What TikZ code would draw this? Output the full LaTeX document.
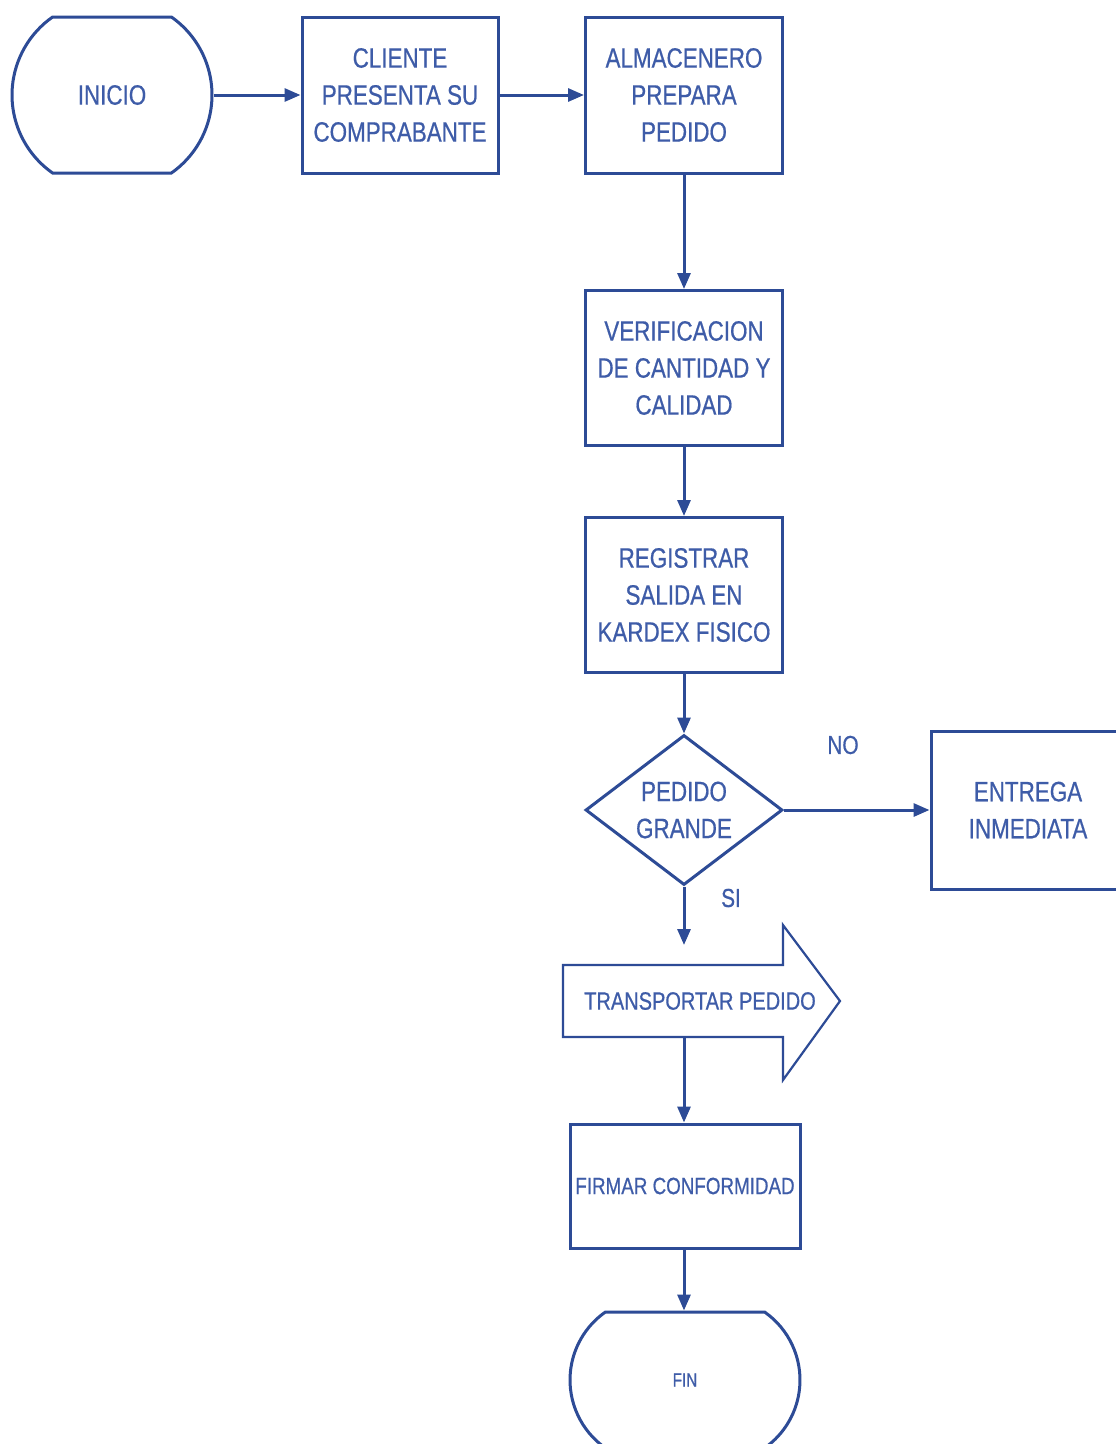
\documentclass[tikz,border=0pt]{standalone}
\usepackage{fontspec}
\setmainfont[FakeStretch=0.8,FakeBold=0.6]{Liberation Sans}
\usetikzlibrary{arrows.meta,shapes.misc,shapes.geometric}
\definecolor{lc}{RGB}{45,75,150}
\definecolor{tc}{RGB}{62,92,168}
\begin{document}
\begin{tikzpicture}[x=1pt,y=-1pt,
  every node/.style={text=tc},
  base/.style={draw=lc, line width=3pt, align=center, inner sep=0pt,
    font=\fontsize{28}{37}\selectfont},
  box/.style={base, rectangle, minimum width=197pt, minimum height=156pt},
  term/.style={base, rounded rectangle, rounded rectangle arc length=110,
    minimum width=200pt, minimum height=156pt},
  dec/.style={base, diamond, aspect=1.3, minimum width=197pt, minimum height=150pt},
  lbl/.style={font=\fontsize{26}{30}\selectfont},
  conn/.style={draw=lc, line width=3pt, -{Triangle[length=16pt,width=13pt]}}
]
\useasboundingbox (0,0) rectangle (1116,1444);
\fill[white] (0,0) rectangle (1116,1444);

\node[term] (ini) at (112,95) {INICIO};
\node[box, minimum width=196pt] (cli) at (400,95) {CLIENTE\\PRESENTA SU\\COMPRABANTE};
\node[box] (alm) at (684,95) {ALMACENERO\\PREPARA\\PEDIDO};
\node[box, minimum height=155pt] (ver) at (684,368) {VERIFICACION\\DE CANTIDAD Y\\CALIDAD};
\node[box, minimum height=155pt] (reg) at (684,595) {REGISTRAR\\SALIDA EN\\KARDEX FISICO};
\node[dec] (dg) at (684,810) {PEDIDO\\GRANDE};
\node[box, minimum width=194pt, minimum height=158pt] (ent) at (1028,810) {ENTREGA\\INMEDIATA};
\node[align=center, inner sep=0pt, font=\fontsize{25}{30}\selectfont] (tp) at (700,1001) {TRANSPORTAR PEDIDO};
\draw[draw=lc, line width=2.2pt, line join=miter]
  (563,965) -- (783,965) -- (783,925) -- (840,1001) -- (783,1080)
  -- (783,1037) -- (563,1037) -- cycle;
\node[box, minimum width=230pt, minimum height=124pt, font=\fontsize{23.5}{28}\selectfont] (firm) at (685,1186) {FIRMAR CONFORMIDAD};
\node[term, minimum width=230pt, minimum height=136pt, font=\fontsize{19}{24}\selectfont] (fin) at (685,1380) {FIN};

\node[lbl] (no) at (843,745) {NO};
\node[lbl] (si) at (731,898) {SI};
\coordinate (c1) at (684,945);
\coordinate (c2) at (684,1037);

\draw[conn] (ini.east) -- (cli.west);
\draw[conn] (cli.east) -- (alm.west);
\draw[conn] (alm.south) -- (ver.north);
\draw[conn] (ver.south) -- (reg.north);
\draw[conn] (reg.south) -- (dg.north);
\draw[conn] (dg.east) -- (ent.west);
\draw[conn] (dg.south) -- (c1);
\draw[conn] (c2) -- (firm.north -| c2);
\draw[conn] (firm.south -| c2) -- (fin.north -| c2);
\end{tikzpicture}
\end{document}
